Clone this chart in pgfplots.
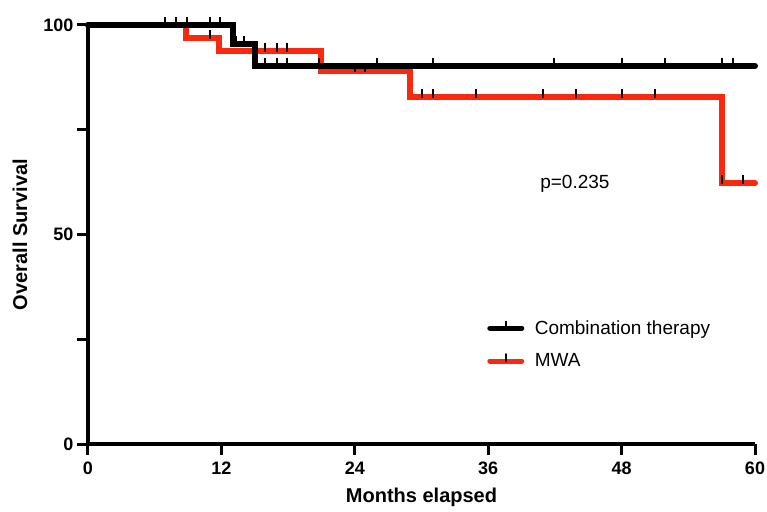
\documentclass[border=0pt]{standalone}
\usepackage{fontspec}
\setmainfont{Liberation Sans}
\usepackage{pgfplots}
\pgfplotsset{compat=1.18}
\definecolor{mwared}{RGB}{250,40,15}
% censor tick: short vertical stroke rising from the curve
\pgfdeclareplotmark{cens}{%
  \pgfpathmoveto{\pgfqpoint{0pt}{-1pt}}%
  \pgfpathlineto{\pgfqpoint{0pt}{8pt}}%
  \pgfusepathqstroke}

\begin{document}
\begin{tikzpicture}
\begin{axis}[
    scale only axis,
    width=667pt, height=419pt,
    xmin=0, xmax=60, ymin=0, ymax=100,
    clip=false,
    axis x line=bottom, axis y line=left,
    axis line style={-, line width=3.5pt},
    xtick={0,12,...,60},
    ytick={0,25,50,75,100},
    yticklabels={0,,50,,100},
    tick align=outside,
    major tick length=11pt,
    tick style={line width=3pt, black},
    tick label style={font=\fontsize{18}{18}\selectfont\bfseries},
    xticklabel style={yshift=-3pt},
    /pgf/number format/assume math mode=true,
    xlabel={Months elapsed},
    ylabel={Overall Survival},
    label style={font=\fontsize{20}{20}\selectfont\bfseries},
    xlabel style={at={(axis description cs:0.5,-0.1265)}, anchor=center},
    ylabel style={at={(axis description cs:-0.102,0.5)}, anchor=center},
    legend style={at={(axis cs:35.9,30)}, anchor=north west, draw=none, fill=none,
        inner sep=0pt, row sep=14pt, font=\fontsize{19}{22}\selectfont},
    legend cell align=left,
]
% Combination therapy (legend only; redrawn on top below)
\addplot[const plot, black, line width=6pt, line join=miter,
    legend image code/.code={
      \draw[black, line width=5pt, line cap=round] (0pt,0pt) -- (32pt,0pt);
      \draw[black, line width=2pt] (16pt,0pt) -- (16pt,7pt);
      \path (40pt,0pt);}]
  coordinates {(0,100) (13,95.5) (15,90.2) (60,90.2)};
\addlegendentry{Combination therapy}
% MWA
\addplot[const plot, mwared, line width=6pt, line join=miter, line cap=round,
    legend image code/.code={
      \draw[mwared, line width=5pt, line cap=round] (0pt,0pt) -- (32pt,0pt);
      \draw[black, line width=2pt] (16pt,0pt) -- (16pt,7pt);
      \path (40pt,0pt);}]
  coordinates {(0,100) (8.8,96.9) (11.8,93.8) (21,89.0) (29,82.9) (57,62.2) (60,62.2)};
\addlegendentry{MWA}
\addplot[const plot, black, line width=6pt, line join=miter, line cap=round, forget plot]
  coordinates {(0,100) (13,95.5) (15,90.2) (60,90.2)};
% censored observations, combination therapy
\addplot[only marks, mark=cens, black, mark options={solid, line width=2pt}, forget plot]
  coordinates {(6.9,100) (7.9,100) (8.9,100) (11.0,100) (11.9,100)
               (13.3,95.5) (14.0,95.5)
               (15.9,90.2) (17.0,90.2) (17.9,90.2) (20.8,90.2)
               (26.0,90.2) (31.0,90.2) (41.9,90.2) (48.0,90.2) (51.9,90.2)
               (57.0,90.2) (58.0,90.2)};
% censored observations, MWA
\addplot[only marks, mark=cens, black, mark options={solid, line width=2pt}, forget plot]
  coordinates {(11.0,96.9)
               (15.9,93.8) (17.0,93.8) (17.9,93.8)
               (24.0,89.0) (24.9,89.0)
               (30.0,82.9) (31.0,82.9) (34.9,82.9) (40.9,82.9) (43.9,82.9)
               (48.0,82.9) (51.0,82.9)
               (57.0,62.2) (58.9,62.2)};
\node[font=\fontsize{19}{19}\selectfont] at (axis cs:43.8,62) {p=0.235};
\end{axis}
\pgfresetboundingbox
\path[use as bounding box] (-88pt,-67pt) rectangle (679pt,444pt);
\end{tikzpicture}
\end{document}
